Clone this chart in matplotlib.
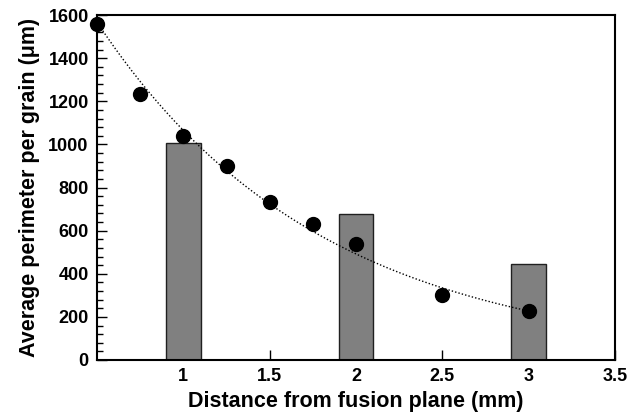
import numpy as np
import matplotlib
matplotlib.use("Agg")
import matplotlib.pyplot as plt

# --- данные ---
BAR_X = [1.0, 2.0, 3.0]
BAR_H = [1005, 675, 445]

PT_X = [0.5, 0.75, 1.0, 1.25, 1.5, 1.75, 2.0, 2.5, 3.0]
PT_Y = [1558, 1232, 1040, 898, 734, 632, 537, 301, 227]

X_TICKS = [1, 1.5, 2, 2.5, 3, 3.5]
X_TICKLABELS = ["1", "1.5", "2", "2.5", "3", "3.5"]
Y_TICKS = [0, 200, 400, 600, 800, 1000, 1200, 1400, 1600]

plt.rcParams["font.family"] = ["Liberation Sans", "DejaVu Sans"]
plt.rcParams["font.weight"] = "bold"

fig = plt.figure(figsize=(6.42, 4.20), dpi=100)
ax = fig.add_axes([97 / 642, 60 / 420, (615 - 97) / 642, (360 - 15) / 420])

ax.bar(BAR_X, BAR_H, width=0.2, color="#808080", edgecolor="#202020",
       linewidth=1.0, zorder=2)

# тренд: экспоненциальная аппроксимация точек (как в исходном графике)
b, lna = np.polyfit(PT_X, np.log(PT_Y), 1)
xf = np.linspace(min(PT_X), max(PT_X), 200)
ax.plot(xf, np.exp(lna + b * xf), color="black", linestyle=(0, (1, 1.5)),
        linewidth=1.0, zorder=3)
ax.plot(PT_X, PT_Y, "o", color="black", markersize=10, zorder=4, clip_on=False)

ax.set_xlim(0.5, 3.5)
ax.set_ylim(0, 1600)
ax.set_xticks(X_TICKS)
ax.set_xticklabels(X_TICKLABELS)
ax.set_yticks(Y_TICKS)
ax.set_yticks(np.arange(0, 1601, 40), minor=True)
ax.tick_params(axis="both", which="major", direction="in", length=7, width=1,
               labelsize=13, pad=6)
ax.tick_params(axis="y", which="minor", direction="in", length=4, width=1)
ax.tick_params(axis="x", which="minor", bottom=False)
for lbl in ax.get_xticklabels() + ax.get_yticklabels():
    lbl.set_fontweight("bold")
for sp in ax.spines.values():
    sp.set_linewidth(1.5)

ax.set_xlabel("Distance from fusion plane (mm)", fontsize=15.5, fontweight="bold",
              labelpad=4)
ax.set_ylabel("Average perimeter per grain (μm)", fontsize=15.5, fontweight="bold",
              labelpad=6)

fig.savefig("out.png", dpi=100)
